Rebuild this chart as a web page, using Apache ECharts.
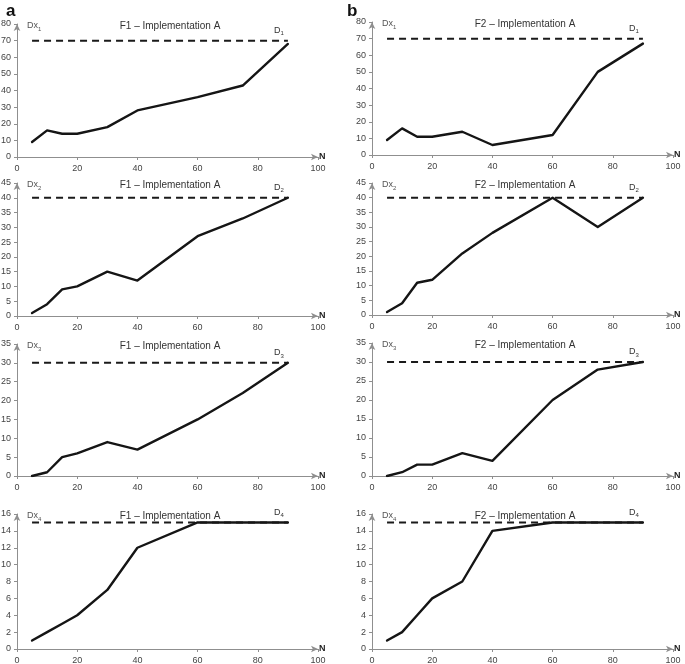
<!DOCTYPE html>
<html><head><meta charset="utf-8">
<script src="https://cdn.jsdelivr.net/npm/echarts@6/dist/echarts.min.js"></script>
<style>html,body{margin:0;padding:0;background:#fff}#c{width:685px;height:664px}</style>
</head><body><div id="c"></div>
<script>
const xN = [5, 10, 15, 20, 30, 40, 60, 75, 90];
const f1Dx1 = [9, 16, 14, 14, 18, 28, 36, 43, 68];
const f2Dx1 = [9, 16, 11, 11, 14, 6, 12, 50, 67];
const f1Dx2 = [1, 4, 9, 10, 15, 12, 27, 33, 40];
const f2Dx2 = [1, 4, 11, 12, 21, 28, 40, 30, 40];
const f1Dx3 = [0, 1, 5, 6, 9, 7, 15, 22, 30];
const f2Dx3 = [0, 1, 3, 3, 6, 4, 20, 28, 30];
const f1Dx4 = [1, 2, 3, 4, 7, 12, 15, 15, 15];
const f2Dx4 = [1, 2, 4, 6, 8, 14, 15, 15, 15];
const dLevels = [70, 40, 30, 15];
const dRange = [5, 90];
const yMaxs = [80, 45, 35, 16];
const ySteps = [10, 5, 5, 2];
const xTicks = [0, 20, 40, 60, 80, 100];
const titles = ['F1 – Implementation A', 'F2 – Implementation A'];
const panelLetters = ['a', 'b'];

const seriesData = [[f1Dx1, f1Dx2, f1Dx3, f1Dx4], [f2Dx1, f2Dx2, f2Dx3, f2Dx4]];

const gridLefts = [17, 372];
const gridW = 301;
const gridTops = [[24, 183, 344, 514], [22, 183, 343, 514]];
const gridBottoms = [[157, 316, 476, 649], [155, 315, 476, 649]];

const font = 'Liberation Sans, Arial, sans-serif';
const axisCol = '#8f8f8f';
const labCol = '#444';

const grid = [], xAxis = [], yAxis = [], series = [], title = [];
let idx = 0;
for (let c = 0; c < 2; c++) {
  title.push({text: panelLetters[c], left: c === 0 ? 1 : 342, top: -2,
    textStyle: {fontSize: 17, fontWeight: 'bold', color: '#111', fontFamily: 'Arial, Liberation Sans, sans-serif'}});
  for (let r = 0; r < 4; r++) {
    const top = gridTops[c][r], h = gridBottoms[c][r] - top;
    grid.push({left: gridLefts[c], top: top, width: gridW, height: h, outerBoundsMode: 'none', containLabel: false});
    title.push({text: titles[c], left: gridLefts[c] + 148, top: top - 8, textAlign: 'center',
      textStyle: {fontSize: 10, fontWeight: 'normal', color: '#333', fontFamily: font}});
    xAxis.push({type: 'value', gridIndex: idx, min: 0, max: 100, interval: 20,
      name: 'N', nameLocation: 'end', nameGap: 1, nameMoveOverlap: false,
      nameTextStyle: {fontSize: 9, fontWeight: 'bold', color: '#222', fontFamily: font, align: 'left', verticalAlign: 'middle', padding: [7, 0, 0, 0]},
      axisLine: {lineStyle: {color: axisCol, width: 1}, symbol: ['none', 'arrow'], symbolSize: [5, 7]},
      axisTick: {show: true, length: 3, lineStyle: {color: axisCol}},
      axisLabel: {fontSize: 9, color: labCol, fontFamily: font, margin: 7,
        formatter: v => xTicks.includes(v) ? String(v) : ''},
      splitLine: {show: false}});
    yAxis.push({type: 'value', gridIndex: idx, min: 0, max: yMaxs[r], interval: ySteps[r],
      name: '{a|Dx}{s|' + (r + 1) + '}', nameLocation: 'end', nameGap: -2, nameMoveOverlap: false,
      nameTextStyle: {align: 'left', verticalAlign: 'middle', padding: [0, 0, 0, 10], color: '#555', fontFamily: font, fontSize: 9,
        rich: {a: {fontSize: 9, color: '#555', fontFamily: font}, s: {fontSize: 6, color: '#555', fontFamily: font, verticalAlign: 'bottom', padding: [6, 0, 0, 0]}}},
      axisLine: {show: true, lineStyle: {color: axisCol, width: 1}, symbol: ['none', 'arrow'], symbolSize: [5, 7]},
      axisTick: {show: true, length: 3, lineStyle: {color: axisCol}},
      axisLabel: {fontSize: 9, color: labCol, fontFamily: font, margin: 6},
      splitLine: {show: false}});
    series.push({type: 'line', xAxisIndex: idx, yAxisIndex: idx, symbol: 'none', silent: true,
      data: dRange.map(x => [x, dLevels[r]]),
      lineStyle: {color: '#1a1a1a', width: 2, type: [7, 5]},
      endLabel: {show: true, offset: [-22, -10], align: 'left', verticalAlign: 'middle',
        formatter: () => '{a|D}{s|' + (r + 1) + '}',
        rich: {a: {fontSize: 9, color: '#333', fontFamily: font}, s: {fontSize: 6, color: '#333', fontFamily: font, verticalAlign: 'bottom', padding: [6, 0, 0, 0]}}},
      z: 2});
    series.push({type: 'line', xAxisIndex: idx, yAxisIndex: idx, symbol: 'none', silent: true,
      data: xN.map((x, i) => [x, seriesData[c][r][i]]),
      lineStyle: {color: '#151515', width: 2.4, cap: 'round', join: 'round'}, z: 3});
    idx++;
  }
}

const chart = echarts.init(document.getElementById('c'), null, {renderer: 'canvas'});
chart.setOption({animation: false, backgroundColor: '#fff', title, grid, xAxis, yAxis, series});
</script></body></html>
